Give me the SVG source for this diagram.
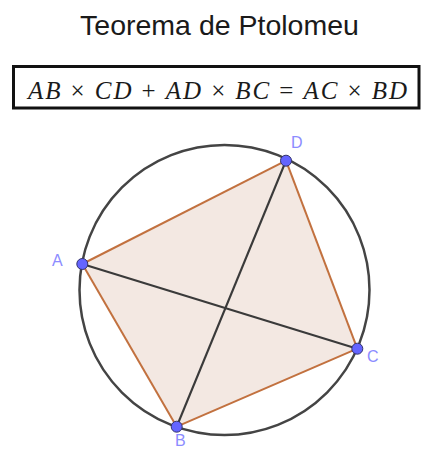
<svg xmlns="http://www.w3.org/2000/svg" width="423" height="451" viewBox="0 0 423 451">
<style>
.title{font-family:"Liberation Sans",Arial,sans-serif;font-size:28.5px;fill:#1a1a1a}
.eq{font-family:"Liberation Serif","Times New Roman",serif;font-size:25px;fill:#1a1a1a}
.eq .v{font-style:italic}
.lbl{font-family:"Liberation Sans",Arial,sans-serif;font-size:16px;fill:#8c8cff}
.pt{fill:#6464ff;stroke:#33336b;stroke-width:1}
.side{stroke:#c2713f;stroke-width:2;fill:none}
.diag{stroke:#3a3a3a;stroke-width:2.2;fill:none}
</style>
<rect width="423" height="451" fill="#ffffff"/>
<text class="title" x="219.5" y="35" text-anchor="middle">Teorema de Ptolomeu</text>
<rect x="13.5" y="66.5" width="405.5" height="41.5" fill="none" stroke="#111" stroke-width="3"/>
<text class="eq" x="28" y="99" textLength="379" lengthAdjust="spacing"><tspan class="v">AB</tspan>  × <tspan class="v">CD</tspan> + <tspan class="v">AD</tspan> × <tspan class="v">BC</tspan> = <tspan class="v">AC</tspan> × <tspan class="v">BD</tspan></text>
<g id="circle">
<circle cx="224.5" cy="290" r="145" fill="none" stroke="#444" stroke-width="2.5"/>
</g>
<g id="quad">
<polygon points="82.3,264 286,160.7 357.3,348.7 176.7,426.7" fill="#f3e8e2" stroke="none"/>
</g>
<g id="connectors">
<line class="diag" x1="82.3" y1="264" x2="357.3" y2="348.7"/>
<line class="diag" x1="286" y1="160.7" x2="176.7" y2="426.7"/>
<line class="side" x1="82.3" y1="264" x2="286" y2="160.7"/>
<line class="side" x1="286" y1="160.7" x2="357.3" y2="348.7"/>
<line class="side" x1="357.3" y1="348.7" x2="176.7" y2="426.7"/>
<line class="side" x1="176.7" y1="426.7" x2="82.3" y2="264"/>
</g>
<g id="A"><circle class="pt" cx="82.3" cy="264" r="5.5"/><text class="lbl" x="52" y="266">A</text></g>
<g id="D"><circle class="pt" cx="286" cy="160.7" r="5.5"/><text class="lbl" x="291" y="148">D</text></g>
<g id="C"><circle class="pt" cx="357.3" cy="348.7" r="5.5"/><text class="lbl" x="367" y="362">C</text></g>
<g id="B"><circle class="pt" cx="176.7" cy="426.7" r="5.5"/><text class="lbl" x="175" y="446">B</text></g>
</svg>
